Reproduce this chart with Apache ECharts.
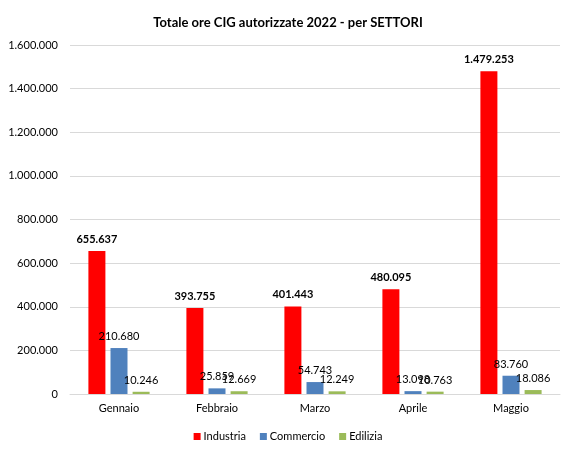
<!DOCTYPE html>
<html><head><meta charset="utf-8">
<script src="https://cdn.jsdelivr.net/npm/echarts@6/dist/echarts.min.js"></script>
<style>html,body{margin:0;padding:0;background:#fff}#c{width:576px;height:458px}</style>
</head><body><div id="c"></div>
<script>
const categories = ['Gennaio','Febbraio','Marzo','Aprile','Maggio'];
const industria = [655637, 393755, 401443, 480095, 1479253];
const commercio = [210680, 25859, 54743, 13098, 83760];
const edilizia = [10246, 12669, 12249, 10763, 18086];
const seriesNames = ['Industria','Commercio','Edilizia'];

const fmt = v => String(Math.round(v)).replace(/\B(?=(\d{3})+(?!\d))/g, '.');
const FONT = 'Lato, "Open Sans", sans-serif';
const chart = echarts.init(document.getElementById('c'));
const mk = (name, data, color, bold) => ({
  name, type: 'bar', data, barWidth: 17, barGap: '30%',
  itemStyle: { color },
  label: { show: true, position: 'top', distance: 6, formatter: p => fmt(p.value),
    fontFamily: FONT, fontSize: 11, color: '#000', fontWeight: bold ? 'bold' : 'normal' }
});
chart.setOption({
  animation: false,
  textStyle: { fontFamily: FONT },
  title: { text: 'Totale ore CIG autorizzate 2022 - per SETTORI', left: 'center', top: 11,
    textStyle: { fontFamily: FONT, fontSize: 13, fontWeight: 'bold', color: '#000' } },
  grid: { left: 70, right: 16, top: 45, bottom: 64 },
  legend: { bottom: 11, left: 'center', itemWidth: 7, itemHeight: 7, itemGap: 14, icon: 'rect',
    textStyle: { fontFamily: FONT, fontSize: 11, color: '#000', padding: [0,0,0,-2] } },
  xAxis: { type: 'category', data: categories,
    axisLine: { lineStyle: { color: '#d9d9d9' } }, axisTick: { show: false },
    axisLabel: { fontFamily: FONT, fontSize: 11, color: '#000', margin: 9 } },
  yAxis: { type: 'value', min: 0, max: 1600000, interval: 200000,
    splitLine: { lineStyle: { color: '#d9d9d9' } },
    axisLabel: { fontFamily: FONT, fontSize: 11, color: '#000', formatter: v => fmt(v), margin: 12 } },
  series: [
    mk(seriesNames[0], industria, '#ff0000', true),
    mk(seriesNames[1], commercio, '#4f81bd', false),
    mk(seriesNames[2], edilizia, '#9bbb59', false)
  ]
});
</script></body></html>
